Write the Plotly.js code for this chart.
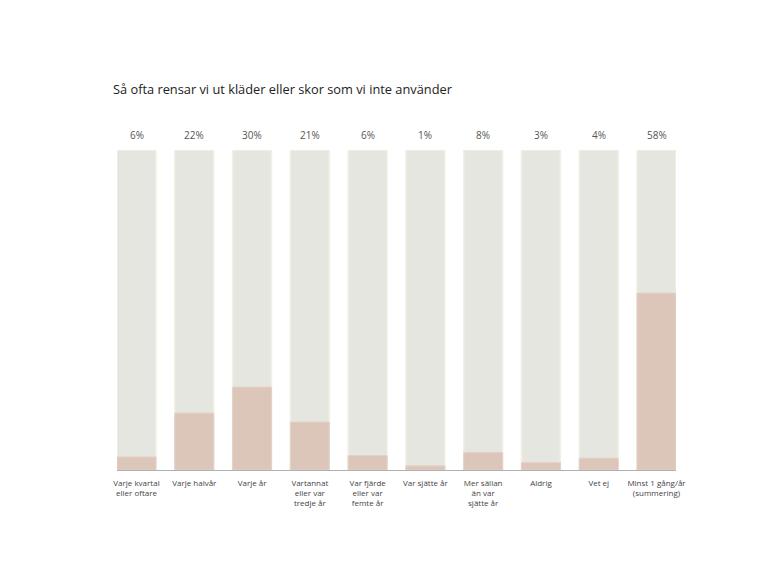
<!DOCTYPE html>
<html>
<head>
<meta charset="utf-8">
<script src="https://cdn.plot.ly/plotly-3.0.1.min.js"></script>
<style>html,body{margin:0;padding:0;background:#fff;}#chart{width:770px;height:577px;}</style>
</head>
<body>
<div id="chart"></div>
<script>
var categories = ["Varje kvartal<br>eller oftare", "Varje halvår", "Varje år", "Vartannat<br>eller var<br>tredje år", "Var fjärde<br>eller var<br>femte år", "Var sjätte år", "Mer sällan<br>än var<br>sjätte år", "Aldrig", "Vet ej", "Minst 1 gång/år<br>(summering)"];
var valueLabels = ["6%", "22%", "30%", "21%", "6%", "1%", "8%", "3%", "4%", "58%"];
var barHeights = [4.1, 17.8, 25.9, 15.0, 4.5, 1.3, 5.5, 2.3, 3.7, 55.3];
var fullScale = [100, 100, 100, 100, 100, 100, 100, 100, 100, 100];

var bgTrace = {
  type: 'bar', x: categories, y: fullScale,
  marker: {color: '#e6e6e1', line: {color: '#f2f0e4', width: 1.5}},
  width: 0.675, hoverinfo: 'skip', showlegend: false
};
var valTrace = {
  type: 'bar', x: categories, y: barHeights,
  marker: {color: '#dcc6ba', line: {color: '#e3d2c8', width: 1}},
  width: 0.675, hoverinfo: 'skip', showlegend: false
};

var annotations = categories.map(function(c, i){
  return {x: c, y: fullScale[i], xref: 'x', yref: 'y', text: valueLabels[i],
    showarrow: false, yanchor: 'bottom', yshift: 6,
    font: {family: 'Open Sans', size: 10, color: '#555'}};
});

var layout = {
  width: 770, height: 577,
  paper_bgcolor: '#fff', plot_bgcolor: '#fff',
  margin: {l: 117, r: 94, t: 150, b: 107},
  barmode: 'overlay',
  title: {text: 'Så ofta rensar vi ut kläder eller skor som vi inte använder',
    xref: 'container', yref: 'container', x: 113/770, xanchor: 'left', y: 1 - 90/577, yanchor: 'middle',
    font: {family: 'Open Sans', size: 12.8, color: '#222'}},
  xaxis: {type: 'category', range: [-0.3375, 9.3375], showline: true, linecolor: '#b0b0b0', linewidth: 1,
    ticks: '', showgrid: false, zeroline: false, fixedrange: true, ticklabelstandoff: 5,
    tickfont: {family: 'Open Sans', size: 8, color: '#444'}},
  yaxis: {range: [0, 100], visible: false, showgrid: false, zeroline: false, fixedrange: true},
  annotations: annotations,
  font: {family: 'Open Sans'}
};

Plotly.newPlot('chart', [bgTrace, valTrace], layout, {displayModeBar: false, staticPlot: true});
</script>
</body>
</html>
